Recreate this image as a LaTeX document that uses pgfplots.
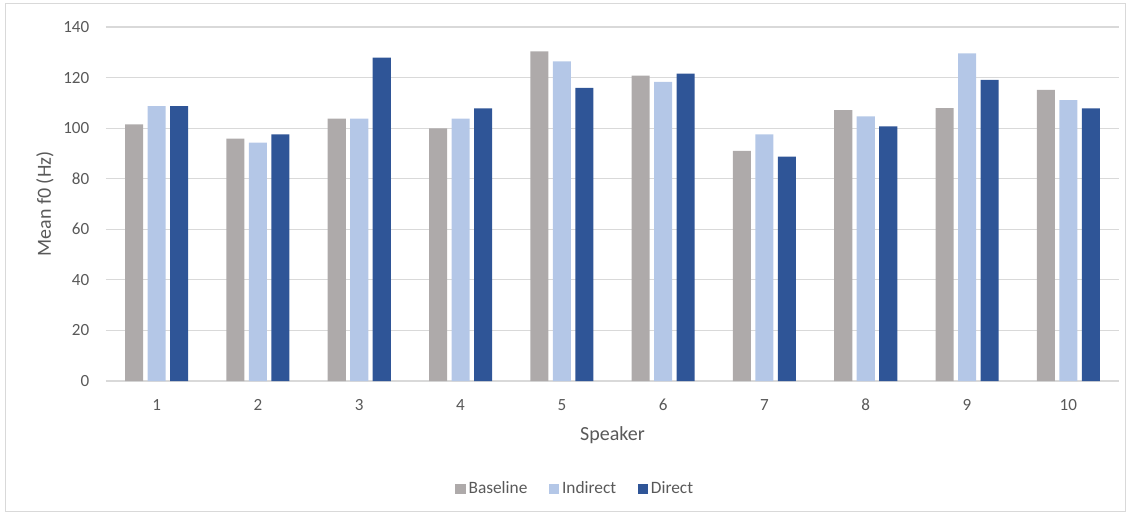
\documentclass[border=0pt]{standalone}
\usepackage{fontspec}
\setmainfont{Carlito}
\usepackage{pgfplots}
\pgfplotsset{compat=1.18}
\definecolor{cBase}{HTML}{AEAAAA}
\definecolor{cInd}{HTML}{B4C7E7}
\definecolor{cDir}{HTML}{2F5597}
\definecolor{cTxt}{HTML}{595959}
\definecolor{cGrid}{HTML}{D9D9D9}
\begin{document}
\begin{tikzpicture}[x=0.75pt,y=0.75pt]
% page = 1129 x 515 px, axis lower-left at (106,381) px
\path[use as bounding box] (-106,-134) rectangle (1023,381);
\draw[cGrid, line width=0.75pt] (-100,-130) rectangle (1019,377);
\begin{axis}[
  at={(0,0)}, anchor=south west,
  scale only axis, width=759.75pt, height=265.5pt,
  xmin=0.5, xmax=10.5, ymin=0, ymax=140,
  ytick={0,20,...,140}, xtick={1,...,10},
  ymajorgrids, grid style={cGrid, line width=0.9pt},
  axis x line*=bottom, axis y line*=left,
  x axis line style={draw=cGrid, line width=0.9pt, -},
  y axis line style={draw=none},
  major tick length=0pt,
  tick label style={font=\fontsize{12.8}{15}\selectfont, text=cTxt},
  /pgf/number format/assume math mode=true,
  yticklabel style={xshift=-9pt},
  xticklabel style={anchor=center, yshift=-18pt},
  xlabel={Speaker}, ylabel={Mean f0 (Hz)},
  label style={font=\fontsize{15}{18}\selectfont, text=cTxt},
  xlabel style={at={(axis description cs:0.5,0)}, anchor=center, yshift=-40.5pt},
  ylabel style={at={(axis description cs:0,0.5)}, anchor=center, yshift=45.75pt},
  ybar, bar width=0.178,
  legend style={draw=none, at={(0.4635,-0.305)}, anchor=center,
    legend columns=3, font=\fontsize{13}{15}\selectfont, text=cTxt,
    /tikz/every even column/.append style={column sep=14pt}},
  legend image code/.code={\fill[#1] (0pt,-4pt) rectangle (8pt,4pt);},
]
\addplot[fill=cBase, draw=none, bar shift=-0.222] coordinates {
(1,101.5) (2,95.9) (3,103.8) (4,99.9) (5,130.4) (6,120.8) (7,91.0) (8,107.1) (9,107.9) (10,115.1)};
\addplot[fill=cInd, draw=none, bar shift=0] coordinates {
(1,108.7) (2,94.3) (3,103.8) (4,103.8) (5,126.4) (6,118.3) (7,97.5) (8,104.7) (9,129.6) (10,111.1)};
\addplot[fill=cDir, draw=none, bar shift=0.222] coordinates {
(1,108.7) (2,97.5) (3,127.9) (4,107.8) (5,115.9) (6,121.6) (7,88.7) (8,100.7) (9,119.1) (10,107.8)};
\legend{Baseline, Indirect, Direct}
\end{axis}
\end{tikzpicture}
\end{document}
